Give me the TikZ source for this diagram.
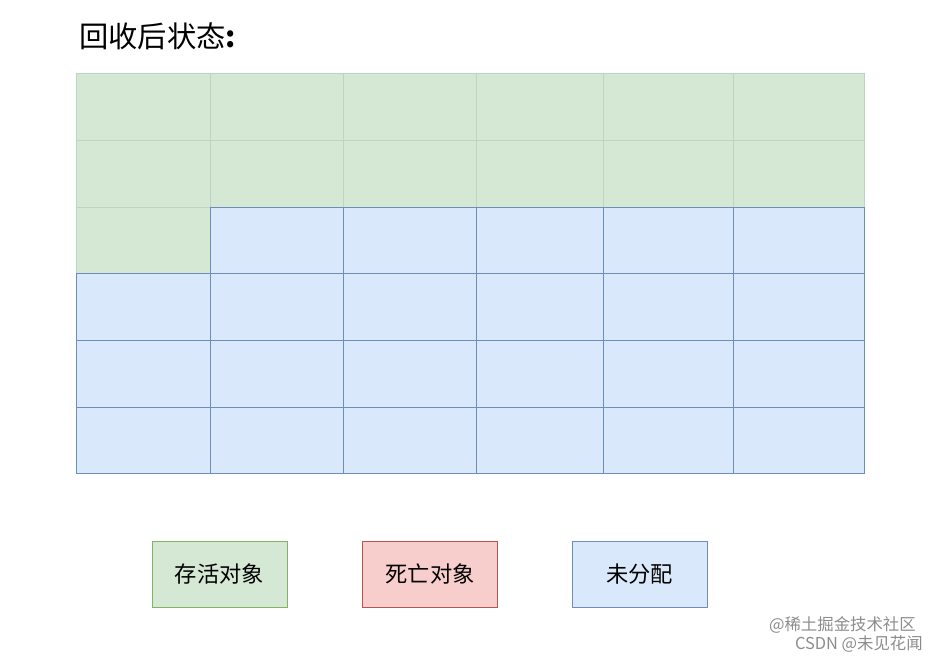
\documentclass[tikz,border=0pt]{standalone}
\usepackage{fontspec}
\newfontfamily\cjk{Noto Sans CJK SC}
\definecolor{livefill}{HTML}{D5E8D4}
\definecolor{livedraw}{HTML}{82B366}
\definecolor{liveline}{HTML}{BCD4C2}
\definecolor{deadfill}{HTML}{F8CECC}
\definecolor{deaddraw}{HTML}{B85450}
\definecolor{freefill}{HTML}{DAE8FC}
\definecolor{freedraw}{HTML}{6C8EBF}
\tikzset{
  livecell/.style={fill=livefill, draw=liveline, line width=0.6pt},
  freecell/.style={fill=freefill, draw=freedraw, line width=0.8pt},
  legendbox/.style={minimum width=4.05cm, minimum height=1.98cm, line width=0.8pt,
    font=\cjk\fontsize{19}{22}\selectfont, inner sep=0pt},
  marktext/.style={anchor=east, text=black!45, font=\cjk\fontsize{14}{16}\selectfont, inner sep=0pt}
}
\begin{document}
\begin{tikzpicture}[x=0.03cm, y=0.03cm]
                \useasboundingbox (0,0) rectangle (938,-659);
                % title
                \node[anchor=west, font=\cjk\fontsize{25}{29}\selectfont] (title) at (75,-36) {回收后状态\textbf{:}};
                % live objects
                \foreach \ya/\yb in {73/140,140/207}
                  \foreach \xa/\xb in {76/210,210/343,343/476,476/603,603/733,733/864}
                    \draw[livecell] (\xa,-\ya) rectangle (\xb,-\yb);
                \draw[livecell] (76,-207) rectangle (210,-273);
                % free space
                \foreach \xa/\xb in {210/343,343/476,476/603,603/733,733/864}
                  \draw[freecell] (\xa,-207) rectangle (\xb,-273);
                \foreach \ya/\yb in {273/340,340/407,407/473}
                  \foreach \xa/\xb in {76/210,210/343,343/476,476/603,603/733,733/864}
                    \draw[freecell] (\xa,-\ya) rectangle (\xb,-\yb);
                % legend
                \node[legendbox, fill=livefill, draw=livedraw] (live) at (219.5,-574) {存活对象};
                \node[legendbox, fill=deadfill, draw=deaddraw] (dead) at (430,-574) {死亡对象};
                \node[legendbox, fill=freefill, draw=freedraw] (free) at (639.5,-574) {未分配};
                % watermark
                \node[marktext] (mark1) at (916,-625) {@稀土掘金技术社区};
                \node[marktext] (mark2) at (923,-644) {CSDN @未见花闻};
            \end{tikzpicture}
\end{document}
